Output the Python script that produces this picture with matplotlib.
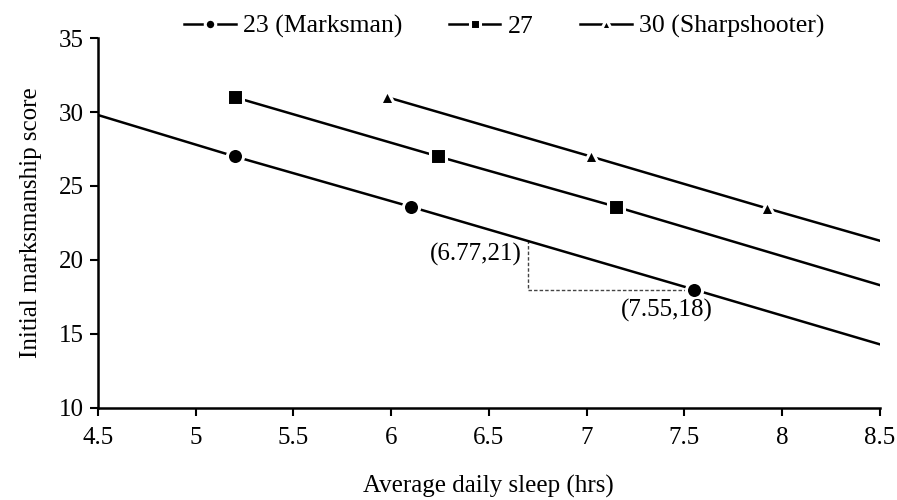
import matplotlib
matplotlib.use("Agg")
import matplotlib.pyplot as plt

plt.rcParams['font.family'] = ['Liberation Serif', 'DejaVu Serif']

# Data
x23 = [4.5, 5.2, 6.1, 7.55, 8.5]
y23 = [29.8, 27.0, 23.6, 18.0, 14.3]
x27 = [5.2, 6.24, 7.15, 8.5]
y27 = [31.0, 27.0, 23.6, 18.3]
x30 = [5.98, 7.02, 7.92, 8.5]
y30 = [31.0, 27.0, 23.5, 21.3]
labels = ["23 (Marksman)", "27", "30 (Sharpshooter)"]

tri_x = [6.70, 6.70, 7.55]
tri_y = [21.35, 18.0, 18.0]
ann1 = "(6.77,21)"
ann2 = "(7.55,18)"

xticks = [4.5, 5, 5.5, 6, 6.5, 7, 7.5, 8, 8.5]
xticklabels = ["4.5", "5", "5.5", "6", "6.5", "7", "7.5", "8", "8.5"]
yticks = [10, 15, 20, 25, 30, 35]

FS = 18

fig = plt.figure(figsize=(8.97, 5.0), dpi=100)
ax = fig.add_axes([0.109, 0.184, 0.872, 0.74])

kw = dict(color='black', lw=1.8, markeredgecolor='white', markeredgewidth=2.2,
          markerfacecolor='black')
ax.plot(x23, y23, marker='o', markersize=11.6, markevery=[1, 2, 3], label=labels[0], **kw)
ax.plot(x27, y27, marker='s', markersize=11.6, markevery=[0, 1, 2], label=labels[1], **kw)
ax.plot(x30, y30, marker='^', markersize=10, markevery=[0, 1, 2], label=labels[2], **kw)

ax.plot(tri_x, tri_y, color='#444444', lw=1.0, ls=(0, (2.5, 1.5)), zorder=1)

ax.text(6.67, 20.4, ann1, fontsize=FS, ha='right', va='center')
ax.text(7.41, 16.6, ann2, fontsize=FS, ha='center', va='center')

ax.set_xlim(4.5, 8.5)
ax.set_ylim(10, 35)
ax.set_xticks(xticks)
ax.set_xticklabels(xticklabels)
ax.set_yticks(yticks)
ax.tick_params(axis='both', labelsize=FS, direction='out', length=6, width=1.5)
ax.tick_params(axis='x', pad=8)
ax.tick_params(axis='y', pad=4)

for s in ['top', 'right']:
    ax.spines[s].set_visible(False)
for s in ['left', 'bottom']:
    ax.spines[s].set_linewidth(1.8)

ax.set_xlabel("Average daily sleep (hrs)", fontsize=FS, labelpad=18)
ax.set_ylabel("Initial marksmanship score", fontsize=FS, labelpad=12)

leg = ax.legend(loc='upper center', bbox_to_anchor=(0.52, 1.125), ncol=3, frameon=False,
                fontsize=18.5, handlelength=2.0, columnspacing=1.8, handletextpad=0.3,
                markerscale=0.65)

fig.savefig("out.png", dpi=100)
